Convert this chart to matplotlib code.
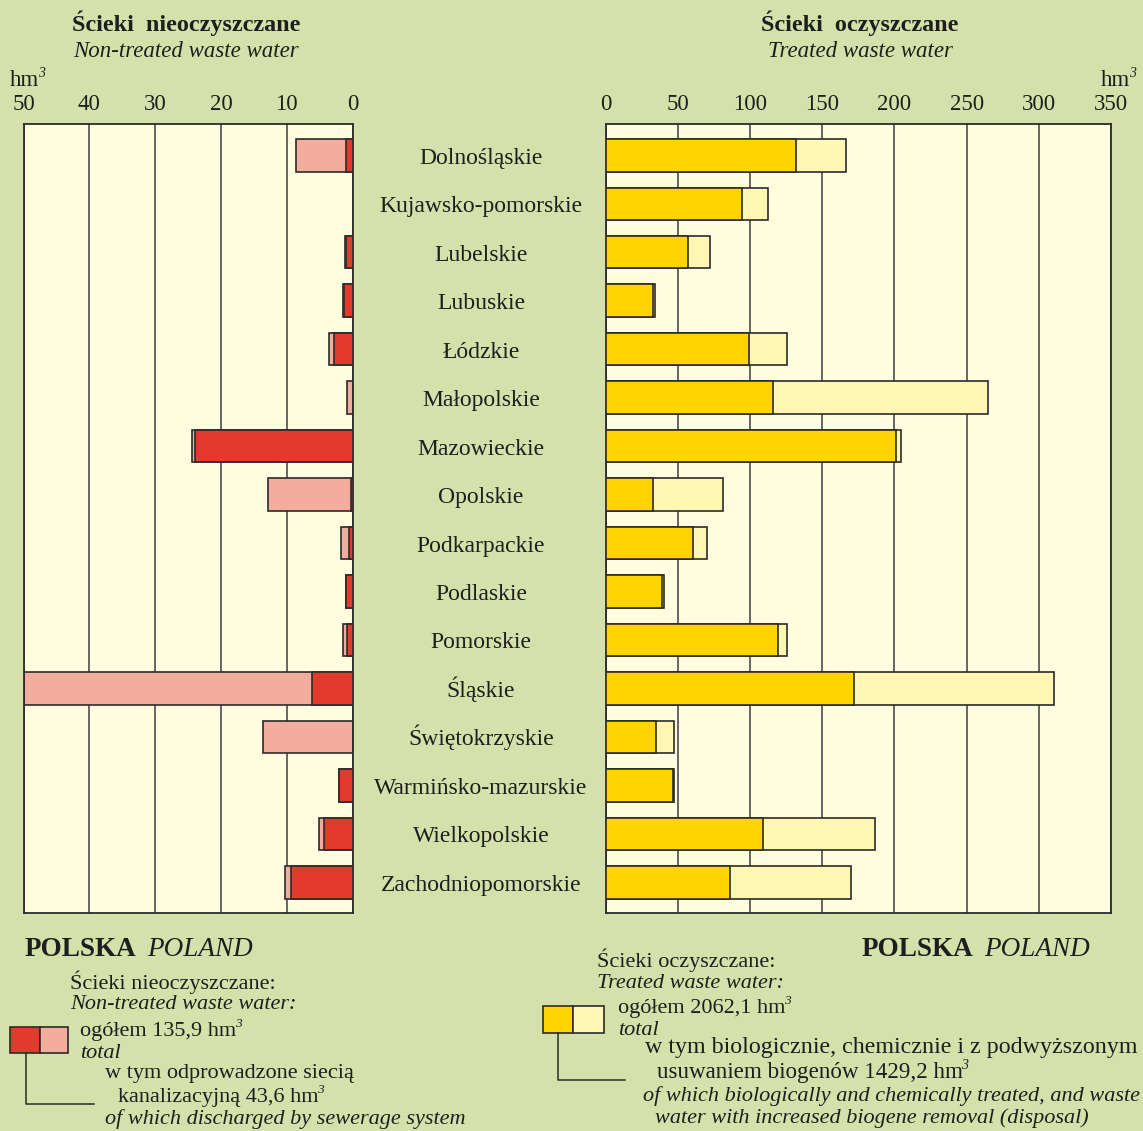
import matplotlib
matplotlib.use("Agg")
import matplotlib.pyplot as plt
import matplotlib.transforms as mtransforms
from matplotlib.patches import Rectangle
from matplotlib.lines import Line2D
import numpy as np

# ---------------- data ----------------
regions = ["Dolnośląskie", "Kujawsko-pomorskie", "Lubelskie", "Lubuskie", "Łódzkie",
           "Małopolskie", "Mazowieckie", "Opolskie", "Podkarpackie", "Podlaskie",
           "Pomorskie", "Śląskie", "Świętokrzyskie", "Warmińsko-mazurskie",
           "Wielkopolskie", "Zachodniopomorskie"]

# non-treated waste water (hm3): total and of which discharged by sewerage system
untreated_total = [8.6, 0.0, 1.1, 1.5, 3.5, 0.8, 24.4, 12.8, 1.7, 1.0, 1.5, 50.0, 13.6, 2.1, 5.1, 10.2]
untreated_sewer = [1.0, 0.0, 1.0, 1.3, 2.8, 0.0, 23.9, 0.2, 0.6, 1.0, 0.9, 6.2, 0.0, 2.0, 4.4, 9.4]

# treated waste water (hm3): total and of which biologically/chemically/increased biogene removal
treated_total = [166.6, 112.6, 72.3, 34.0, 125.5, 264.8, 204.9, 81.1, 70.3, 40.3, 125.5, 310.5, 47.4, 47.4, 186.6, 170.0]
treated_bio = [131.9, 94.8, 57.2, 33.0, 99.2, 116.0, 201.3, 32.7, 60.3, 39.1, 119.4, 172.4, 34.9, 46.7, 109.2, 86.2]

left_ticks = [50, 40, 30, 20, 10, 0]
right_ticks = [0, 50, 100, 150, 200, 250, 300, 350]

# ---------------- style ----------------
W, H = 1143, 1131
BG = "#d5e1ab"
FACE = "#fffde0"
DARKRED = "#e23a2c"
PINK = "#f2ad9c"
GOLD = "#ffd400"
LIGHTY = "#fff8b5"
EDGE = "#2b2b2b"
GRID = "#5a5a5a"
SERIF = "Liberation Serif"
TXT = "#1e1e1e"

plt.rcParams["font.family"] = SERIF

fig = plt.figure(figsize=(W / 100, H / 100), dpi=100, facecolor=BG)
renderer = fig.canvas.get_renderer()


def fx(px):
    return px / W


def fy(py):
    return 1 - py / H


ax_top, ax_bot = 124.3, 913.3
axL = fig.add_axes([fx(23.5), fy(ax_bot), fx(352.5 - 23.5), (ax_bot - ax_top) / H])
axR = fig.add_axes([fx(605.5), fy(ax_bot), fx(1111 - 605.5), (ax_bot - ax_top) / H])

y = np.arange(len(regions))
bh = 0.67

for ax in (axL, axR):
    ax.set_facecolor(FACE)
    ax.set_ylim(len(regions) - 0.36, -0.64)
    ax.set_yticks([])
    ax.xaxis.tick_top()
    ax.tick_params(axis="x", length=0, pad=7, labelsize=16.5, colors=TXT)
    ax.grid(axis="x", color=GRID, linewidth=1.3, zorder=0)
    ax.set_axisbelow(True)
    for s in ax.spines.values():
        s.set_color(EDGE)
        s.set_linewidth(1.3)

# left panel
axL.set_xlim(50, 0)
axL.set_xticks(left_ticks)
axL.set_xticklabels([str(t) for t in left_ticks])
for i in range(len(regions)):
    if untreated_total[i] > 0:
        axL.barh(y[i], untreated_total[i], height=bh, color=PINK, edgecolor=EDGE, linewidth=1.2, zorder=2)
    if untreated_sewer[i] > 0:
        axL.barh(y[i], untreated_sewer[i], height=bh, color=DARKRED, edgecolor=EDGE, linewidth=1.2, zorder=3)

# right panel
axR.set_xlim(0, 350)
axR.set_xticks(right_ticks)
axR.set_xticklabels([str(t) for t in right_ticks])
for i in range(len(regions)):
    axR.barh(y[i], treated_total[i], height=bh, color=LIGHTY, edgecolor=EDGE, linewidth=1.2, zorder=2)
    axR.barh(y[i], treated_bio[i], height=bh, color=GOLD, edgecolor=EDGE, linewidth=1.2, zorder=3)

# region labels between panels
trans = mtransforms.blended_transform_factory(fig.transFigure, axR.transData)
trans = mtransforms.offset_copy(trans, fig=fig, y=-8.5, units="dots")
for i, name in enumerate(regions):
    fig.text(fx(481), y[i], name, transform=trans, ha="center", va="baseline",
             fontsize=17, color=TXT)


def text_with_sup(xp, yp, s, size, italic=False, sup="3"):
    """Draw text at baseline (xp, yp) followed by a small raised italic superscript."""
    t = fig.text(fx(xp), fy(yp), s, ha="left", va="baseline", fontsize=size,
                 style="italic" if italic else "normal", color=TXT)
    bb = t.get_window_extent(renderer=renderer)
    if sup:
        fig.text(bb.x1 / W - fx(1.5), fy(yp - size * 0.55), sup, ha="left", va="baseline",
                 fontsize=size * 0.6, style="italic", color=TXT)
    return t


# titles
fig.text(fx(186), fy(31), "Ścieki  nieoczyszczane", ha="center", va="baseline",
         fontsize=17.4, fontweight="bold", color=TXT)
fig.text(fx(186), fy(57), "Non-treated waste water", ha="center", va="baseline",
         fontsize=16.5, style="italic", color=TXT)
fig.text(fx(860), fy(31), "Ścieki  oczyszczane", ha="center", va="baseline",
         fontsize=17.4, fontweight="bold", color=TXT)
fig.text(fx(860), fy(57), "Treated waste water", ha="center", va="baseline",
         fontsize=16.5, style="italic", color=TXT)

text_with_sup(10, 86, "hm", 16.5)
text_with_sup(1101, 86, "hm", 16.5)


# ---------------- legend helpers ----------------
def polska(xp, yp):
    t = fig.text(fx(xp), fy(yp), "POLSKA", ha="left", va="baseline", fontsize=19.5,
                 fontweight="bold", color=TXT)
    bb = t.get_window_extent(renderer=renderer)
    fig.text(bb.x1 / W + fx(10), fy(yp), "POLAND", ha="left", va="baseline",
             fontsize=19.5, style="italic", color=TXT)


def ltext(xp, yp, s, italic=False, size=16, sup=None):
    if sup:
        text_with_sup(xp, yp, s, size, italic, sup)
    else:
        fig.text(fx(xp), fy(yp), s, ha="left", va="baseline", fontsize=size,
                 style="italic" if italic else "normal", color=TXT)


def box(x0, x1, y0, y1, color):
    fig.add_artist(Rectangle((fx(x0), fy(y1)), fx(x1 - x0), (y1 - y0) / H,
                             transform=fig.transFigure, facecolor=color,
                             edgecolor=EDGE, linewidth=1.2))


def bracket(xv, y0, y1, x1):
    fig.add_artist(Line2D([fx(xv), fx(xv), fx(x1)], [fy(y0), fy(y1), fy(y1)],
                          transform=fig.transFigure, color=EDGE, linewidth=1.1))


# ---------------- legend: left ----------------
polska(25, 956)
ltext(70, 989, "Ścieki nieoczyszczane:")
ltext(70, 1009, "Non-treated waste water:", True)
ltext(80, 1036, "ogółem 135,9 hm", sup="3")
ltext(80, 1058, "total", True)
ltext(105, 1078, "w tym odprowadzone siecią")
ltext(118, 1102, "kanalizacyjną 43,6 hm", sup="3")
ltext(105, 1124, "of which discharged by sewerage system", True)

box(10, 40, 1027, 1053, DARKRED)
box(40, 68, 1027, 1053, PINK)
bracket(26, 1053, 1104, 94)

# ---------------- legend: right ----------------
polska(862, 956)
ltext(597, 967, "Ścieki oczyszczane:")
ltext(597, 988, "Treated waste water:", True)
ltext(618, 1013, "ogółem 2062,1 hm", sup="3")
ltext(618, 1035, "total", True)
ltext(645, 1053, "w tym biologicznie, chemicznie i z podwyższonym", size=17.3)
ltext(657, 1078, "usuwaniem biogenów 1429,2 hm", size=16.6, sup="3")
ltext(643, 1101, "of which biologically and chemically treated, and waste", True)
ltext(655, 1123, "water with increased biogene removal (disposal)", True)

box(543, 573, 1006, 1033, GOLD)
box(573, 604, 1006, 1033, LIGHTY)
bracket(558, 1033, 1080, 625)

fig.savefig("out.png", dpi=100, facecolor=BG)
